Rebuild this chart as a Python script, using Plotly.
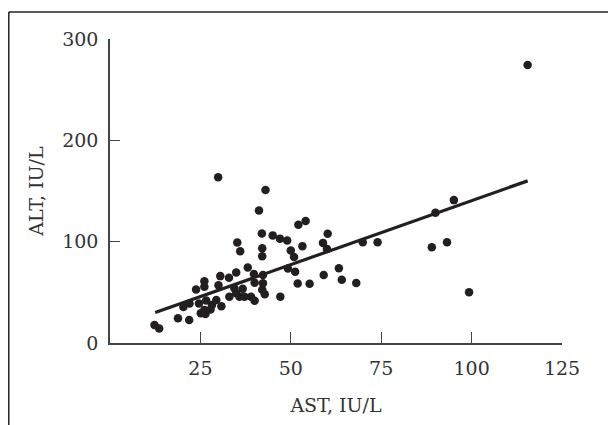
import plotly.graph_objects as go

# AST (x) and ALT (y) values, IU/L
ast = [12.3, 13.6, 18.8, 21.9, 20.3, 22.0, 24.6, 23.8, 26.1, 26.1,
       25.1, 26.4, 26.6, 28.2, 30.8, 30.5, 32.9, 30.0, 33.0, 34.4,
       34.9, 34.9, 36.7, 35.8, 37.2, 38.1, 39.0, 40.0, 39.8, 42.3,
       40.0, 42.3, 42.1, 42.8, 47.1, 35.2, 36.0, 42.1, 42.1, 42.0,
       41.2, 43.0, 29.9, 45.0, 47.0, 49.0, 52.1, 54.1, 50.0, 50.9,
       53.2, 49.2, 51.2, 51.9, 55.2, 58.9, 60.2, 60.0, 59.1, 63.3,
       64.1, 68.1, 69.9, 74.0, 89.0, 93.2, 90.0, 95.1, 99.3, 115.5,
       29.4, 27.8, 26.1]
alt = [17.8, 14.2, 24.4, 22.7, 35.5, 39.0, 39.0, 52.7, 61.0, 55.6,
       29.3, 28.6, 42.0, 37.5, 36.2, 66.0, 64.5, 57.0, 45.7, 54.0,
       69.5, 49.0, 53.5, 45.7, 45.7, 74.5, 45.7, 41.8, 68.0, 67.0,
       59.5, 59.0, 52.5, 48.0, 45.7, 99.2, 90.5, 93.5, 85.6, 108.0,
       130.8, 151.0, 163.5, 106.2, 103.0, 101.2, 116.6, 120.4, 91.3, 84.8,
       95.6, 73.5, 70.2, 58.8, 58.5, 98.8, 107.8, 92.7, 67.0, 73.7,
       62.5, 59.2, 99.4, 99.4, 94.5, 99.4, 128.6, 141.0, 50.0, 274.4,
       42.5, 33.0, 32.6]

# regression line end points
fit_x = [12.5, 115.5]
fit_y = [30.0, 160.0]

x_ticks = [25, 50, 75, 100, 125]
y_ticks = [0, 100, 200, 300]

FONT = "DejaVu Serif"
TXT = "#333333"
INK = "#231f20"

fig = go.Figure()
fig.add_trace(go.Scatter(x=ast, y=alt, mode="markers",
                         marker=dict(size=8.5, color=INK, line=dict(width=0)),
                         showlegend=False, hoverinfo="skip"))
fig.add_trace(go.Scatter(x=fit_x, y=fit_y, mode="lines",
                         line=dict(color=INK, width=3.2),
                         showlegend=False, hoverinfo="skip"))

# page is rendered with an 8px body margin; compensate in figure coordinates
OFF = 8
W, H = 616, 425
L, R, T, B = 110 - OFF, 54 + OFF, 39 - OFF, 82 + OFF
pw, ph = W - L - R, H - T - B

def px(xp):
    return (xp - L) / pw

def py(yp):
    return (H - B - yp) / ph

fig.update_layout(
    width=W, height=H,
    margin=dict(l=L, r=R, t=T, b=B, autoexpand=False),
    paper_bgcolor="white", plot_bgcolor="white",
    font=dict(family=FONT, size=19, color=TXT),
    xaxis=dict(range=[0, 125], tickvals=x_ticks, ticktext=[str(v) for v in x_ticks],
               ticks="inside", ticklen=11, tickwidth=1.3, tickcolor="#444",
               showline=True, linecolor="#444", linewidth=1.5,
               showgrid=False, zeroline=False, ticklabelstandoff=7,
               automargin=False,
               title=dict(text="AST, IU/L", standoff=21, font=dict(size=19))),
    yaxis=dict(range=[0, 300], tickvals=y_ticks, ticktext=[str(v) for v in y_ticks],
               ticks="inside", ticklen=10, tickwidth=1.3, tickcolor="#444",
               showline=True, linecolor="#444", linewidth=1.5,
               showgrid=False, zeroline=False, ticklabelstandoff=6,
               automargin=False,
               title=dict(text="ALT, IU/L", standoff=14, font=dict(size=19))),
    shapes=[
        dict(type="line", xref="paper", yref="paper",
             x0=px(0.8), y0=py(H + 2), x1=px(0.8), y1=py(12 - OFF),
             line=dict(color="#222", width=1.5)),
        dict(type="line", xref="paper", yref="paper",
             x0=px(0.8), y0=py(12 - OFF), x1=px(W + 2), y1=py(12 - OFF),
             line=dict(color="#222", width=1.5)),
    ],
)

fig.write_html("out.html")
